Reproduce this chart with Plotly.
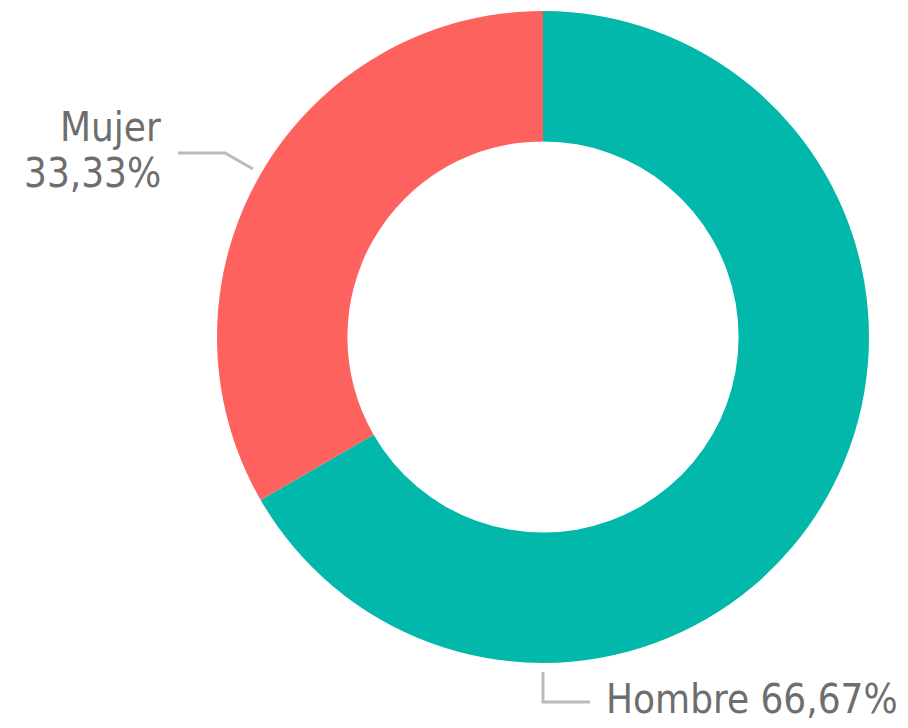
import plotly.graph_objects as go

categories = ["Hombre", "Mujer"]
values = [66.67, 33.33]
colors = ["#01B8AA", "#FD625E"]

W, H = 908, 728
fig = go.Figure(go.Pie(
    labels=categories, values=values, hole=0.6, sort=False,
    direction="clockwise", rotation=0,
    marker=dict(colors=colors, line=dict(width=0)),
    textinfo="none", hoverinfo="label+percent",
    domain=dict(x=[217 / W, 869 / W], y=[(H - 663) / H, (H - 11) / H]),
))

def px(x, y):
    return x / W, (H - y) / H

fnt = dict(family="DejaVu Sans Condensed, Liberation Sans Narrow, sans-serif", size=40, color="#6e6e6e")

# leader lines
line_style = dict(color="#BBBBBB", width=3)
for pts in ([(178, 153), (225, 153), (253, 169)], [(543, 672), (543, 702), (590, 702)]):
    path = "M " + " L ".join(f"{x},{H - y}" for x, y in pts)
    fig.add_shape(type="path", path=path, xref="x", yref="y", line=line_style)

fig.add_annotation(x=px(163, 0)[0], y=px(0, 127)[1], xref="paper", yref="paper",
                   text=categories[1],
                   showarrow=False, xanchor="right", yanchor="middle", align="right", font=fnt)
fig.add_annotation(x=px(163, 0)[0], y=px(0, 173)[1], xref="paper", yref="paper",
                   text=f"{values[1]:.2f}%".replace(".", ","),
                   showarrow=False, xanchor="right", yanchor="middle", align="right", font=fnt)
fig.add_annotation(x=px(604, 0)[0], y=px(0, 699)[1], xref="paper", yref="paper",
                   text=f"{categories[0]} {values[0]:.2f}%".replace(".", ","),
                   showarrow=False, xanchor="left", yanchor="middle", align="left", font=fnt)

fig.update_layout(
    width=W, height=H, margin=dict(l=0, r=0, t=0, b=0),
    paper_bgcolor="white", plot_bgcolor="rgba(0,0,0,0)", showlegend=False,
    xaxis=dict(range=[0, W], visible=False, fixedrange=True),
    yaxis=dict(range=[0, H], visible=False, fixedrange=True),
)
fig.write_html("out.html", config={"displayModeBar": False},
               post_script="document.body.style.margin='0';")
